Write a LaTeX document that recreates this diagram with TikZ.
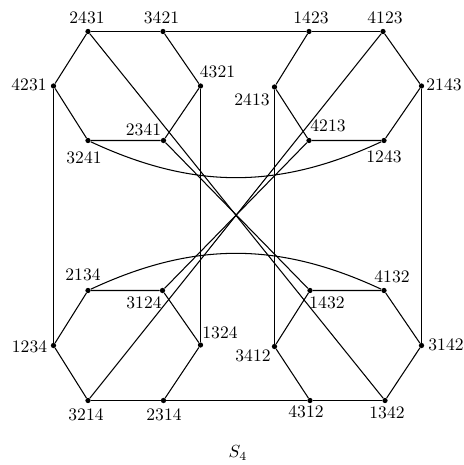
\documentclass[tikz,border=0pt]{standalone}
\begin{document}
\begin{tikzpicture}[x=0.57pt,y=-0.57pt,
  dot/.style={circle,fill=black,inner sep=0pt,minimum size=3pt},
  lbl/.style={inner sep=0pt,font=\fontsize{10}{12}\selectfont},
  edge/.style={line width=0.6pt}]
\useasboundingbox (0,0) rectangle (463,465);
% top-left hexagon
\node[dot] (a2431) at (88,31.5) {};
\node[dot] (a3421) at (163,31.5) {};
\node[dot] (a4321) at (200.5,86) {};
\node[dot] (a2341) at (163.5,140.5) {};
\node[dot] (a3241) at (88,140.5) {};
\node[dot] (a4231) at (53.5,86) {};
% top-right hexagon
\node[dot] (a1423) at (309,31.5) {};
\node[dot] (a4123) at (383,31.5) {};
\node[dot] (a2143) at (421.5,86) {};
\node[dot] (a1243) at (384,140.5) {};
\node[dot] (a4213) at (309,140.5) {};
\node[dot] (a2413) at (274.5,87) {};
% bottom-left hexagon
\node[dot] (a2134) at (88,290.5) {};
\node[dot] (a3124) at (162.5,290.5) {};
\node[dot] (a1324) at (200.5,345) {};
\node[dot] (a2314) at (163.5,400.5) {};
\node[dot] (a3214) at (88,400.5) {};
\node[dot] (a1234) at (53.5,345.5) {};
% bottom-right hexagon
\node[dot] (a1432) at (310,290.5) {};
\node[dot] (a4132) at (384,290.5) {};
\node[dot] (a3142) at (421.5,345.5) {};
\node[dot] (a1342) at (385,400.5) {};
\node[dot] (a4312) at (310,400.5) {};
\node[dot] (a3412) at (274.5,346.5) {};
% labels
\node[lbl] (t2431) at (87,18) {2431};
\node[lbl] (t3421) at (161.5,18) {3421};
\node[lbl] (t1423) at (311,18) {1423};
\node[lbl] (t4123) at (385,18) {4123};
\node[lbl] (t4231) at (29,85) {4231};
\node[lbl] (t4321) at (217.5,72) {4321};
\node[lbl] (t2341) at (143.5,129.5) {2341};
\node[lbl] (t3241) at (84,158) {3241};
\node[lbl] (t2413) at (252,100) {2413};
\node[lbl] (t4213) at (328,126) {4213};
\node[lbl] (t1243) at (384,157) {1243};
\node[lbl] (t2143) at (444,85) {2143};
\node[lbl] (t2134) at (83,275) {2134};
\node[lbl] (t3124) at (144,303) {3124};
\node[lbl] (t1324) at (220,333) {1324};
\node[lbl] (t1234) at (29.5,347) {1234};
\node[lbl] (t3214) at (86,415) {3214};
\node[lbl] (t2314) at (164,415) {2314};
\node[lbl] (t4132) at (392,277) {4132};
\node[lbl] (t1432) at (327,303) {1432};
\node[lbl] (t3412) at (253,356) {3412};
\node[lbl] (t3142) at (446,345) {3142};
\node[lbl] (t4312) at (306,412) {4312};
\node[lbl] (t1342) at (387,413) {1342};
\node[lbl] (title) at (238,453) {$S_4$};
% edges
\begin{scope}[edge]
% top line and bottom line
\draw (a2431) -- (a3421) -- (a1423) -- (a4123);
\draw (a3214) -- (a2314) -- (a4312) -- (a1342);
% hexagon sides
\draw (a2431) -- (a4231) -- (a3241) -- (a2341) -- (a4321) -- (a3421);
\draw (a1423) -- (a2413) -- (a4213) -- (a1243) -- (a2143) -- (a4123);
\draw (a2134) -- (a1234) -- (a3214);
\draw (a2314) -- (a1324) -- (a3124) -- (a2134);
\draw (a1432) -- (a3412) -- (a4312);
\draw (a1342) -- (a3142) -- (a4132) -- (a1432);
% verticals
\draw (a4231) -- (a1234);
\draw (a2143) -- (a3142);
\draw (a4321) -- (a1324);
\draw (a2413) -- (a3412);
% diagonals
\draw (a2431) -- (a1342);
\draw (a2341) -- (a1432);
\draw (a4123) -- (a3214);
\draw (a4213) -- (a3124);
% curves
\draw (a3241) to[bend right=25] (a1243);
\draw (a2134) to[bend left=25] (a4132);
\end{scope}
\end{tikzpicture}
\end{document}
